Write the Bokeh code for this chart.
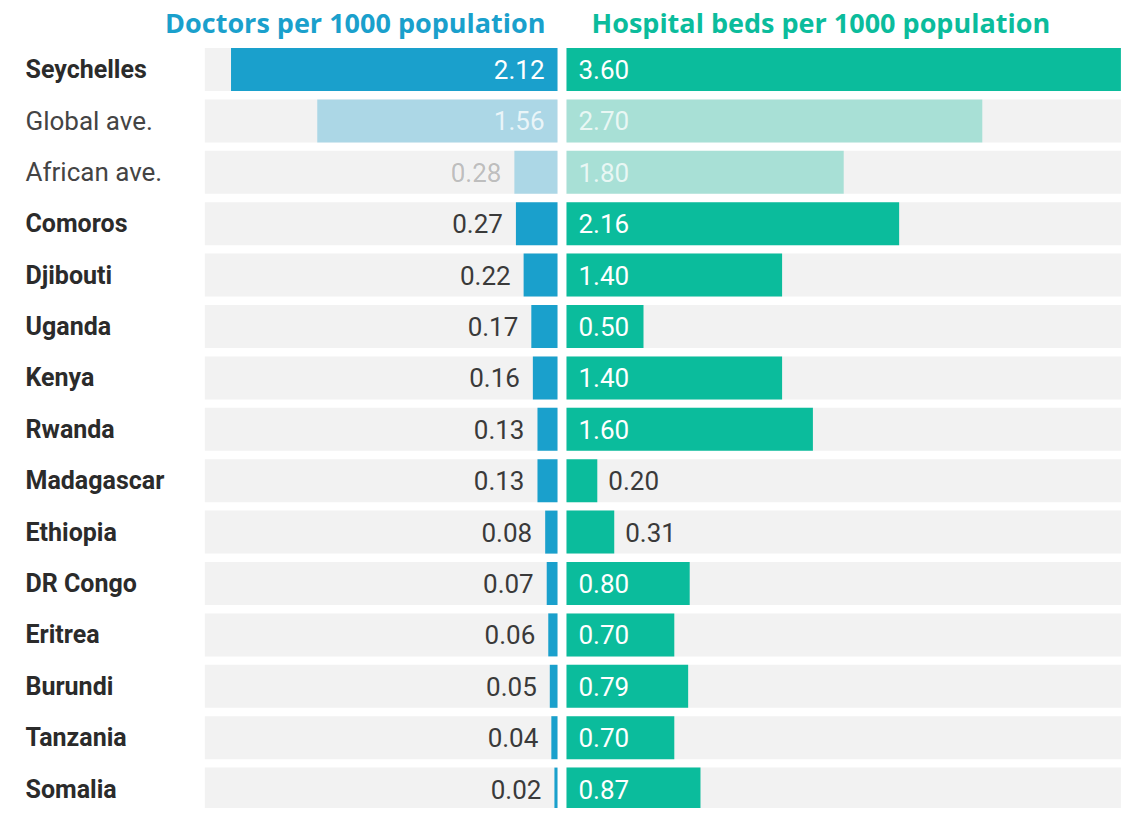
from bokeh.plotting import figure
from bokeh.models import Range1d, ColumnDataSource
from bokeh.layouts import row
from bokeh.core.properties import value
from bokeh.embed import file_html
from bokeh.resources import INLINE

countries = ["Seychelles", "Global ave.", "African ave.", "Comoros", "Djibouti", "Uganda",
             "Kenya", "Rwanda", "Madagascar", "Ethiopia", "DR Congo", "Eritrea",
             "Burundi", "Tanzania", "Somalia"]
doctors = [2.12, 1.56, 0.28, 0.27, 0.22, 0.17, 0.16, 0.13, 0.13, 0.08, 0.07, 0.06, 0.05, 0.04, 0.02]
beds = [3.60, 2.70, 1.80, 2.16, 1.40, 0.50, 1.40, 1.60, 0.20, 0.31, 0.80, 0.70, 0.79, 0.70, 0.87]
is_average = [c.endswith("ave.") for c in countries]

BLUE = "#1aa0cc"
GREEN = "#0bbc9c"
BG = "#f2f2f2"
DARK = "#3a3a3a"
S = 154.0          # pixels per unit
PITCH = 51.4       # pixels per row
TOPC = 69.0        # canvas y of first row centre
H = 808
WL, WR = 561, 560
ZL, ZR = 557, 5    # pixel of zero in each figure
LEFT_BG = 2.29
RIGHT_BG = max(beds)
INSIDE_MIN = 0.45
VAL_SIZE = "26px"

ys = list(range(len(countries)))
y_range = Range1d(start=(H - TOPC) / PITCH, end=-TOPC / PITCH)


def base(width, x_range):
    p = figure(width=width, height=H, x_range=x_range, y_range=y_range,
               output_backend="svg", toolbar_location=None, min_border=0)
    p.axis.visible = False
    p.grid.visible = False
    p.outline_line_color = None
    p.background_fill_color = "white"
    p.border_fill_color = "white"
    return p


def label_data(vals, pad_in, pad_out):
    xs, txt, col, alp = [], [], [], []
    for v, avg in zip(vals, is_average):
        if v >= INSIDE_MIN:
            xs.append(pad_in / S)
            col.append("white")
            alp.append(0.75 if avg else 1.0)
        else:
            xs.append(v + pad_out / S)
            col.append(DARK)
            alp.append(0.3 if avg else 1.0)
        txt.append(f"{v:.2f}")
    return dict(x=xs, y=ys, text=txt, color=col, alpha=alp)


bar_alpha = [0.32 if a else 1.0 for a in is_average]
bar_h = 43.0 / PITCH
title_y = (22 - TOPC) / PITCH

# ---------- left: doctors ----------
pl = base(WL, Range1d(start=ZL / S, end=-(WL - ZL) / S))
pl.hbar(y=ys, left=0, right=LEFT_BG, height=bar_h, fill_color=BG, line_color=None)
pl.hbar(y=ys, left=0, right=doctors, height=bar_h, fill_color=BLUE, fill_alpha=bar_alpha,
        line_color=None)
ld = ColumnDataSource(label_data(doctors, 13, 13))
pl.text(x="x", y="y", text="text", source=ld, text_color="color", text_alpha="alpha",
        text_align="right", text_baseline="middle", text_font=value("Roboto"),
        text_font_size=VAL_SIZE)

names = ColumnDataSource(dict(
    x=[(ZL - 25) / S] * len(countries), y=ys, text=countries,
    style=["normal" if a else "bold" for a in is_average],
    size=["26px" if a else "25px" for a in is_average],
    color=["#444444" if a else "#2b2b2b" for a in is_average]))
pl.text(x="x", y="y", text="text", source=names, text_color="color",
        text_font_style="style", text_font_size="size", text_align="left",
        text_baseline="middle", text_font=value("Roboto"))

pl.text(x=[(ZL - 545) / S], y=[title_y], text=["Doctors per 1000 population"],
        text_color=BLUE, text_font_style="bold", text_align="right", text_baseline="middle",
        text_font=value("Open Sans"), text_font_size="27px")

# ---------- right: hospital beds ----------
pr = base(WR, Range1d(start=-ZR / S, end=(WR - ZR) / S))
pr.hbar(y=ys, left=0, right=RIGHT_BG, height=bar_h, fill_color=BG, line_color=None)
pr.hbar(y=ys, left=0, right=beds, height=bar_h, fill_color=GREEN, fill_alpha=bar_alpha,
        line_color=None)
lb = ColumnDataSource(label_data(beds, 12, 11))
pr.text(x="x", y="y", text="text", source=lb, text_color="color", text_alpha="alpha",
        text_align="left", text_baseline="middle", text_font=value("Roboto"),
        text_font_size=VAL_SIZE)
pr.text(x=[(591 - WL - ZR) / S], y=[title_y],
        text=["Hospital beds per 1000 population"],
        text_color=GREEN, text_font_style="bold", text_align="left", text_baseline="middle",
        text_font=value("Open Sans"), text_font_size="27px")

layout = row(pl, pr, spacing=0)
open("out.html", "w").write(file_html(layout, INLINE))
